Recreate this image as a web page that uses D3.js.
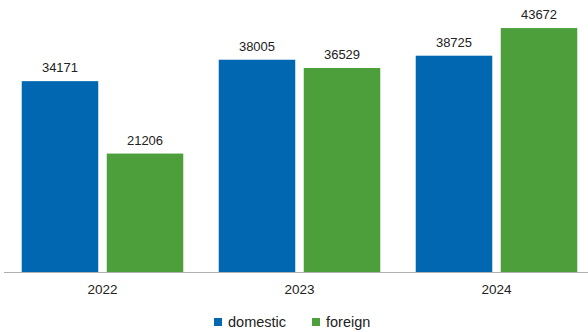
<!DOCTYPE html>
<html>
<head>
<meta charset="utf-8">
<script src="https://cdn.jsdelivr.net/npm/d3@7"></script>
<style>
  body { margin: 0; background: #fff; }
  text { font-family: "Liberation Sans", Arial, sans-serif; }
</style>
</head>
<body>
<div id="chart-area"></div>
<script>
// Data
var years = ["2022", "2023", "2024"];
var seriesNames = ["domestic", "foreign"];
var domestic = [34171, 38005, 38725];
var foreign = [21206, 36529, 43672];
var colors = ["#0067b0", "#4c9f3a"];

var width = 588, height = 332;
var baseline = 272;

var svg = d3.select("#chart-area").append("svg")
    .attr("width", width)
    .attr("height", height);

// Scales
var x0 = d3.scaleBand()
    .domain(years)
    .range([4, 595])
    .paddingInner(0.18)
    .paddingOuter(0.09);

var x1 = d3.scaleBand()
    .domain(seriesNames)
    .range([0, x0.bandwidth()])
    .paddingInner(0.1);

var y = d3.scaleLinear()
    .domain([0, 48700])
    .range([baseline, 0]);

var rows = years.map(function(yr, i) {
    return { year: yr, values: [domestic[i], foreign[i]] };
});

// Bars
var groups = svg.selectAll(".group")
    .data(rows)
    .enter().append("g")
    .attr("class", "group")
    .attr("transform", function(d) { return "translate(" + x0(d.year) + ",0)"; });

groups.selectAll("rect")
    .data(function(d) { return d.values.map(function(v, j) { return { key: seriesNames[j], value: v, i: j }; }); })
    .enter().append("rect")
    .attr("x", function(d) { return x1(d.key); })
    .attr("y", function(d) { return y(d.value); })
    .attr("width", x1.bandwidth())
    .attr("height", function(d) { return baseline - y(d.value); })
    .attr("fill", function(d) { return colors[d.i]; });

// Value labels
groups.selectAll(".val")
    .data(function(d) { return d.values.map(function(v, j) { return { key: seriesNames[j], value: v }; }); })
    .enter().append("text")
    .attr("class", "val")
    .attr("x", function(d) { return x1(d.key) + x1.bandwidth() / 2; })
    .attr("y", function(d) { return y(d.value) - 9; })
    .attr("text-anchor", "middle")
    .attr("font-size", "13px")
    .attr("fill", "#222")
    .text(function(d) { return d.value; });

// X axis
var xAxis = svg.append("g")
    .attr("transform", "translate(0," + baseline + ")")
    .call(d3.axisBottom(x0).tickSize(0).tickPadding(12));
xAxis.select(".domain").attr("stroke", "#b0b0b0").attr("d", "M4,0.5H588");
xAxis.selectAll("text")
    .attr("font-size", "13.5px")
    .attr("fill", "#222")
    .style("font-family", "Liberation Sans, Arial, sans-serif");

// Legend
var legendX = [214, 312];
var legend = svg.selectAll(".legend")
    .data(seriesNames)
    .enter().append("g")
    .attr("class", "legend")
    .attr("transform", function(d, i) { return "translate(" + legendX[i] + ",318)"; });

legend.append("rect")
    .attr("width", 8)
    .attr("height", 8)
    .attr("fill", function(d, i) { return colors[i]; });

legend.append("text")
    .attr("x", 14)
    .attr("y", 9)
    .attr("font-size", "14.5px")
    .attr("fill", "#222")
    .text(function(d) { return d; });
</script>
</body>
</html>
